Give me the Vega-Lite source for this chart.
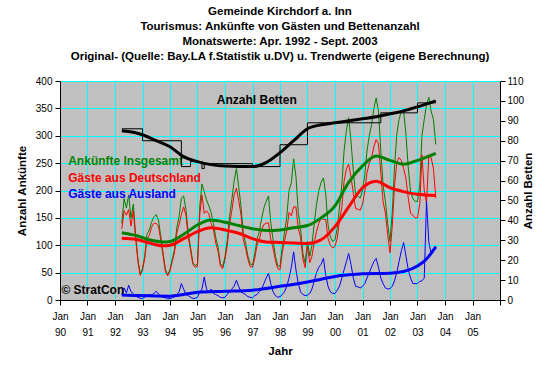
{
  "$schema": "https://vega.github.io/schema/vega-lite/v6.json",
  "width": 440,
  "height": 219,
  "autosize": {"type": "none"},
  "padding": {"left": 60, "top": 81, "right": 60, "bottom": 74},
  "background": "white",
  "config": {
    "font": "Liberation Sans",
    "view": {"stroke": "#808080", "strokeWidth": 1, "fill": "#C0C0C0"},
    "axis": {"labelColor": "black", "titleColor": "black", "domainColor": "black", "tickColor": "black", "labelFont": "Liberation Sans", "titleFont": "Liberation Sans", "labelFontSize": 10, "titleFontSize": 11.5, "titleFontWeight": "bold", "tickSize": 5, "gridColor": "#00FFFF", "gridOpacity": 1, "gridWidth": 1, "labelOverlap": false}
  },
  "title": {
    "text": ["Gemeinde Kirchdorf a. Inn", "Tourismus: Ankünfte von Gästen und Bettenanzahl", "Monatswerte: Apr. 1992 - Sept. 2003", "Original- (Quelle: Bay.LA f.Statistik u.DV) u. Trendwerte (eigene Berechnung)"],
    "fontSize": 11.5,
    "fontWeight": "bold",
    "font": "Liberation Sans",
    "color": "black",
    "lineHeight": 15,
    "anchor": "middle",
    "offset": 14
  },
  "datasets": {
    "monthly": [
      {"d":"1992-04-01","g":140,"r":130,"b":10},{"d":"1992-05-01","g":185,"r":163,"b":22},{"d":"1992-06-01","g":168,"r":155,"b":13},{"d":"1992-07-01","g":192,"r":165,"b":27},{"d":"1992-08-01","g":150,"r":135,"b":15},{"d":"1992-09-01","g":175,"r":163,"b":12},{"d":"1992-10-01","g":120,"r":113,"b":7},{"d":"1992-11-01","g":75,"r":70,"b":5},{"d":"1992-12-01","g":48,"r":45,"b":3},
      {"d":"1993-01-01","g":58,"r":55,"b":3},{"d":"1993-02-01","g":82,"r":77,"b":5},{"d":"1993-03-01","g":120,"r":112,"b":8},{"d":"1993-04-01","g":128,"r":118,"b":10},{"d":"1993-05-01","g":142,"r":133,"b":9},{"d":"1993-06-01","g":152,"r":140,"b":12},{"d":"1993-07-01","g":156,"r":140,"b":16},{"d":"1993-08-01","g":146,"r":135,"b":11},{"d":"1993-09-01","g":116,"r":109,"b":7},{"d":"1993-10-01","g":86,"r":81,"b":5},{"d":"1993-11-01","g":56,"r":52,"b":4},{"d":"1993-12-01","g":46,"r":44,"b":2},
      {"d":"1994-01-01","g":56,"r":53,"b":3},{"d":"1994-02-01","g":75,"r":71,"b":4},{"d":"1994-03-01","g":92,"r":86,"b":6},{"d":"1994-04-01","g":132,"r":122,"b":10},{"d":"1994-05-01","g":152,"r":137,"b":15},{"d":"1994-06-01","g":186,"r":156,"b":30},{"d":"1994-07-01","g":190,"r":170,"b":20},{"d":"1994-08-01","g":165,"r":155,"b":10},{"d":"1994-09-01","g":122,"r":114,"b":8},{"d":"1994-10-01","g":96,"r":91,"b":5},{"d":"1994-11-01","g":68,"r":65,"b":3},{"d":"1994-12-01","g":63,"r":60,"b":3},
      {"d":"1995-01-01","g":66,"r":61,"b":5},{"d":"1995-02-01","g":172,"r":157,"b":15},{"d":"1995-03-01","g":212,"r":192,"b":20},{"d":"1995-04-01","g":198,"r":158,"b":42},{"d":"1995-05-01","g":183,"r":163,"b":20},{"d":"1995-06-01","g":172,"r":157,"b":15},{"d":"1995-07-01","g":160,"r":140,"b":20},{"d":"1995-08-01","g":140,"r":128,"b":12},{"d":"1995-09-01","g":114,"r":104,"b":10},{"d":"1995-10-01","g":97,"r":89,"b":8},{"d":"1995-11-01","g":67,"r":62,"b":5},{"d":"1995-12-01","g":61,"r":57,"b":4},
      {"d":"1996-01-01","g":79,"r":74,"b":5},{"d":"1996-02-01","g":110,"r":100,"b":10},{"d":"1996-03-01","g":152,"r":137,"b":15},{"d":"1996-04-01","g":183,"r":163,"b":20},{"d":"1996-05-01","g":217,"r":192,"b":25},{"d":"1996-06-01","g":240,"r":204,"b":36},{"d":"1996-07-01","g":207,"r":182,"b":25},{"d":"1996-08-01","g":171,"r":156,"b":15},{"d":"1996-09-01","g":122,"r":110,"b":12},{"d":"1996-10-01","g":104,"r":94,"b":10},{"d":"1996-11-01","g":80,"r":74,"b":6},{"d":"1996-12-01","g":66,"r":61,"b":5},
      {"d":"1997-01-01","g":64,"r":60,"b":4},{"d":"1997-02-01","g":85,"r":77,"b":8},{"d":"1997-03-01","g":110,"r":100,"b":10},{"d":"1997-04-01","g":125,"r":110,"b":15},{"d":"1997-05-01","g":148,"r":128,"b":20},{"d":"1997-06-01","g":168,"r":138,"b":30},{"d":"1997-07-01","g":180,"r":140,"b":40},{"d":"1997-08-01","g":190,"r":141,"b":49},{"d":"1997-09-01","g":140,"r":110,"b":30},{"d":"1997-10-01","g":110,"r":95,"b":15},{"d":"1997-11-01","g":80,"r":72,"b":8},{"d":"1997-12-01","g":63,"r":58,"b":5},
      {"d":"1998-01-01","g":61,"r":55,"b":6},{"d":"1998-02-01","g":98,"r":88,"b":10},{"d":"1998-03-01","g":122,"r":107,"b":15},{"d":"1998-04-01","g":152,"r":127,"b":25},{"d":"1998-05-01","g":200,"r":160,"b":40},{"d":"1998-06-01","g":214,"r":154,"b":60},{"d":"1998-07-01","g":258,"r":170,"b":88},{"d":"1998-08-01","g":225,"r":170,"b":55},{"d":"1998-09-01","g":160,"r":130,"b":30},{"d":"1998-10-01","g":130,"r":115,"b":15},{"d":"1998-11-01","g":85,"r":75,"b":10},{"d":"1998-12-01","g":67,"r":59,"b":8},
      {"d":"1999-01-01","g":107,"r":98,"b":9},{"d":"1999-02-01","g":80,"r":68,"b":12},{"d":"1999-03-01","g":100,"r":80,"b":20},{"d":"1999-04-01","g":140,"r":105,"b":35},{"d":"1999-05-01","g":175,"r":125,"b":50},{"d":"1999-06-01","g":200,"r":140,"b":60},{"d":"1999-07-01","g":215,"r":150,"b":65},{"d":"1999-08-01","g":223,"r":147,"b":76},{"d":"1999-09-01","g":192,"r":147,"b":45},{"d":"1999-10-01","g":137,"r":112,"b":25},{"d":"1999-11-01","g":115,"r":100,"b":15},{"d":"1999-12-01","g":107,"r":95,"b":12},
      {"d":"2000-01-01","g":110,"r":98,"b":12},{"d":"2000-02-01","g":131,"r":113,"b":18},{"d":"2000-03-01","g":170,"r":145,"b":25},{"d":"2000-04-01","g":210,"r":170,"b":40},{"d":"2000-05-01","g":272,"r":217,"b":55},{"d":"2000-06-01","g":310,"r":240,"b":70},{"d":"2000-07-01","g":333,"r":248,"b":85},{"d":"2000-08-01","g":290,"r":225,"b":65},{"d":"2000-09-01","g":235,"r":195,"b":40},{"d":"2000-10-01","g":192,"r":167,"b":25},{"d":"2000-11-01","g":190,"r":166,"b":24},{"d":"2000-12-01","g":186,"r":164,"b":22},
      {"d":"2001-01-01","g":200,"r":175,"b":25},{"d":"2001-02-01","g":229,"r":199,"b":30},{"d":"2001-03-01","g":272,"r":232,"b":40},{"d":"2001-04-01","g":300,"r":250,"b":50},{"d":"2001-05-01","g":320,"r":260,"b":60},{"d":"2001-06-01","g":350,"r":280,"b":70},{"d":"2001-07-01","g":369,"r":293,"b":76},{"d":"2001-08-01","g":345,"r":285,"b":60},{"d":"2001-09-01","g":272,"r":232,"b":40},{"d":"2001-10-01","g":210,"r":180,"b":30},{"d":"2001-11-01","g":180,"r":158,"b":22},{"d":"2001-12-01","g":140,"r":120,"b":20},
      {"d":"2002-01-01","g":107,"r":86,"b":21},{"d":"2002-02-01","g":162,"r":137,"b":25},{"d":"2002-03-01","g":241,"r":206,"b":35},{"d":"2002-04-01","g":302,"r":252,"b":50},{"d":"2002-05-01","g":330,"r":260,"b":70},{"d":"2002-06-01","g":345,"r":255,"b":90},{"d":"2002-07-01","g":345,"r":240,"b":105},{"d":"2002-08-01","g":302,"r":222,"b":80},{"d":"2002-09-01","g":241,"r":186,"b":55},{"d":"2002-10-01","g":198,"r":158,"b":40},{"d":"2002-11-01","g":185,"r":155,"b":30},{"d":"2002-12-01","g":180,"r":150,"b":30},
      {"d":"2003-01-01","g":180,"r":150,"b":30},{"d":"2003-02-01","g":210,"r":176,"b":34},{"d":"2003-03-01","g":300,"r":265,"b":35},{"d":"2003-04-01","g":330,"r":200,"b":40},{"d":"2003-05-01","g":357,"r":177,"b":180},{"d":"2003-06-01","g":370,"r":265,"b":105},{"d":"2003-07-01","g":345,"r":260,"b":85},{"d":"2003-08-01","g":330,"r":240,"b":90},{"d":"2003-09-01","g":284,"r":186,"b":98}
    ],
    "trend": [
      {"d":"1992-04-01","s":"g","v":123},{"d":"1992-10-01","s":"g","v":118},{"d":"1993-04-01","s":"g","v":110},{"d":"1993-10-01","s":"g","v":106},{"d":"1994-01-01","s":"g","v":107},{"d":"1994-07-01","s":"g","v":120},{"d":"1995-01-01","s":"g","v":137},{"d":"1995-07-01","s":"g","v":146},{"d":"1996-01-01","s":"g","v":142},{"d":"1996-07-01","s":"g","v":136},{"d":"1997-01-01","s":"g","v":130},{"d":"1997-07-01","s":"g","v":127},{"d":"1998-01-01","s":"g","v":128},{"d":"1998-07-01","s":"g","v":132},{"d":"1999-01-01","s":"g","v":136},{"d":"1999-07-01","s":"g","v":150},{"d":"2000-01-01","s":"g","v":172},{"d":"2000-07-01","s":"g","v":215},{"d":"2001-01-01","s":"g","v":245},{"d":"2001-07-01","s":"g","v":263},{"d":"2002-01-01","s":"g","v":255},{"d":"2002-07-01","s":"g","v":248},{"d":"2003-01-01","s":"g","v":255},{"d":"2003-09-01","s":"g","v":268},
      {"d":"1992-04-01","s":"r","v":113},{"d":"1992-10-01","s":"r","v":111},{"d":"1993-04-01","s":"r","v":104},{"d":"1993-10-01","s":"r","v":99},{"d":"1994-01-01","s":"r","v":100},{"d":"1994-07-01","s":"r","v":112},{"d":"1995-01-01","s":"r","v":125},{"d":"1995-07-01","s":"r","v":132},{"d":"1996-01-01","s":"r","v":128},{"d":"1996-07-01","s":"r","v":122},{"d":"1997-01-01","s":"r","v":112},{"d":"1997-07-01","s":"r","v":106},{"d":"1998-01-01","s":"r","v":105},{"d":"1998-07-01","s":"r","v":104},{"d":"1999-01-01","s":"r","v":103},{"d":"1999-07-01","s":"r","v":110},{"d":"2000-01-01","s":"r","v":134},{"d":"2000-07-01","s":"r","v":170},{"d":"2001-01-01","s":"r","v":205},{"d":"2001-07-01","s":"r","v":217},{"d":"2002-01-01","s":"r","v":205},{"d":"2002-07-01","s":"r","v":198},{"d":"2003-01-01","s":"r","v":193},{"d":"2003-09-01","s":"r","v":191},
      {"d":"1992-04-01","s":"b","v":9},{"d":"1993-01-01","s":"b","v":8},{"d":"1994-01-01","s":"b","v":7},{"d":"1994-07-01","s":"b","v":10},{"d":"1995-01-01","s":"b","v":14},{"d":"1996-01-01","s":"b","v":16},{"d":"1997-01-01","s":"b","v":18},{"d":"1998-01-01","s":"b","v":25},{"d":"1999-01-01","s":"b","v":33},{"d":"1999-07-01","s":"b","v":38},{"d":"2000-01-01","s":"b","v":43},{"d":"2000-07-01","s":"b","v":46},{"d":"2001-01-01","s":"b","v":48},{"d":"2002-01-01","s":"b","v":49},{"d":"2002-07-01","s":"b","v":52},{"d":"2003-01-01","s":"b","v":62},{"d":"2003-05-01","s":"b","v":75},{"d":"2003-09-01","s":"b","v":97}
    ],
    "beds": [
      {"d":"1992-04-01","v":86},{"d":"1993-01-01","v":80},{"d":"1994-06-01","v":67},{"d":"1994-10-01","v":69.5},{"d":"1995-03-01","v":66},{"d":"1995-04-01","v":68.5},{"d":"1997-01-01","v":67},{"d":"1998-01-01","v":78},{"d":"1999-01-01","v":89},{"d":"2001-09-01","v":94},{"d":"2003-01-01","v":99},{"d":"2003-09-01","v":99}
    ],
    "bedtrend": [
      {"d":"1992-04-01","v":85},{"d":"1992-10-01","v":84},{"d":"1993-01-01","v":83},{"d":"1993-07-01","v":80},{"d":"1994-01-01","v":77},{"d":"1994-07-01","v":72},{"d":"1995-01-01","v":69.5},{"d":"1995-07-01","v":68},{"d":"1996-01-01","v":67.3},{"d":"1997-01-01","v":67},{"d":"1997-07-01","v":69},{"d":"1998-01-01","v":74},{"d":"1998-07-01","v":80},{"d":"1999-01-01","v":86},{"d":"1999-07-01","v":88},{"d":"2000-01-01","v":89},{"d":"2001-01-01","v":91},{"d":"2001-07-01","v":92},{"d":"2002-01-01","v":93.5},{"d":"2002-07-01","v":95},{"d":"2003-01-01","v":97},{"d":"2003-09-01","v":100}
    ],
    "labels": [
      {"d":"1990-04-20","v":254,"t":"Ankünfte Insgesamt","s":"g"},
      {"d":"1990-04-20","v":222,"t":"Gäste aus Deutschland","s":"r"},
      {"d":"1990-04-20","v":194,"t":"Gäste aus Ausland","s":"b"},
      {"d":"1995-09-15","v":366,"t":"Anzahl Betten","s":"k"},
      {"d":"1990-01-20","v":18,"t":"© StratCon","s":"k"}
    ]
  },
  "encoding": {
    "x": {"field": "d", "type": "temporal", "scale": {"type": "utc", "domain": [{"year": 1990, "month": 1, "date": 1, "utc": true}, {"year": 2006, "month": 1, "date": 1, "utc": true}]},
      "axis": {"title": "Jahr", "titlePadding": 8, "grid": true, "labelLineHeight": 16, "labelPadding": 6, "labelOverlap": false, "labelFlush": false,
        "values": [{"year":1990,"month":1,"date":1,"utc":true},{"year":1991,"month":1,"date":1,"utc":true},{"year":1992,"month":1,"date":1,"utc":true},{"year":1993,"month":1,"date":1,"utc":true},{"year":1994,"month":1,"date":1,"utc":true},{"year":1995,"month":1,"date":1,"utc":true},{"year":1996,"month":1,"date":1,"utc":true},{"year":1997,"month":1,"date":1,"utc":true},{"year":1998,"month":1,"date":1,"utc":true},{"year":1999,"month":1,"date":1,"utc":true},{"year":2000,"month":1,"date":1,"utc":true},{"year":2001,"month":1,"date":1,"utc":true},{"year":2002,"month":1,"date":1,"utc":true},{"year":2003,"month":1,"date":1,"utc":true},{"year":2004,"month":1,"date":1,"utc":true},{"year":2005,"month":1,"date":1,"utc":true},{"year":2006,"month":1,"date":1,"utc":true}],
        "labelExpr": "utcFormat(datum.value, '%Y') == '2006' ? '' : ['Jan', utcFormat(datum.value, '%y')]"}}
  },
  "layer": [
    {
      "encoding": {
        "y": {"field": "v", "type": "quantitative", "scale": {"domain": [0, 400], "nice": false},
          "axis": {"title": "Anzahl Ankünfte", "values": [0, 50, 100, 150, 200, 250, 300, 350, 400], "labelOverlap": false, "grid": true, "titlePadding": 8, "labelPadding": 3}},
        "color": {"field": "s", "type": "nominal", "scale": {"domain": ["g", "r", "b", "k"], "range": ["#008000", "#FF0000", "#0000FF", "#000000"]}, "legend": null}
      },
      "layer": [
        {
          "data": {"name": "monthly"},
          "transform": [{"fold": ["g", "r", "b"], "as": ["s", "v"]}],
          "mark": {"type": "line", "strokeWidth": 1}
        },
        {
          "data": {"name": "trend"},
          "mark": {"type": "line", "strokeWidth": 3, "interpolate": "monotone"}
        },
        {
          "data": {"name": "labels"},
          "mark": {"type": "text", "align": "left", "baseline": "middle", "fontWeight": "bold", "fontSize": 12, "font": "Liberation Sans"},
          "encoding": {"text": {"field": "t"}}
        }
      ]
    },
    {
      "encoding": {
        "y": {"field": "v", "type": "quantitative", "scale": {"domain": [0, 110], "nice": false},
          "axis": {"orient": "right", "title": "Anzahl Betten", "values": [0, 10, 20, 30, 40, 50, 60, 70, 80, 90, 100, 110], "labelOverlap": false, "grid": false, "titleAngle": -90, "titlePadding": 10, "labelPadding": 2}}
      },
      "layer": [
        {
          "data": {"name": "beds"},
          "mark": {"type": "line", "color": "#000000", "strokeWidth": 1, "interpolate": "step-after"}
        },
        {
          "data": {"name": "bedtrend"},
          "mark": {"type": "line", "color": "#000000", "strokeWidth": 3, "interpolate": "monotone"}
        }
      ]
    }
  ],
  "resolve": {"scale": {"y": "independent"}}
}
